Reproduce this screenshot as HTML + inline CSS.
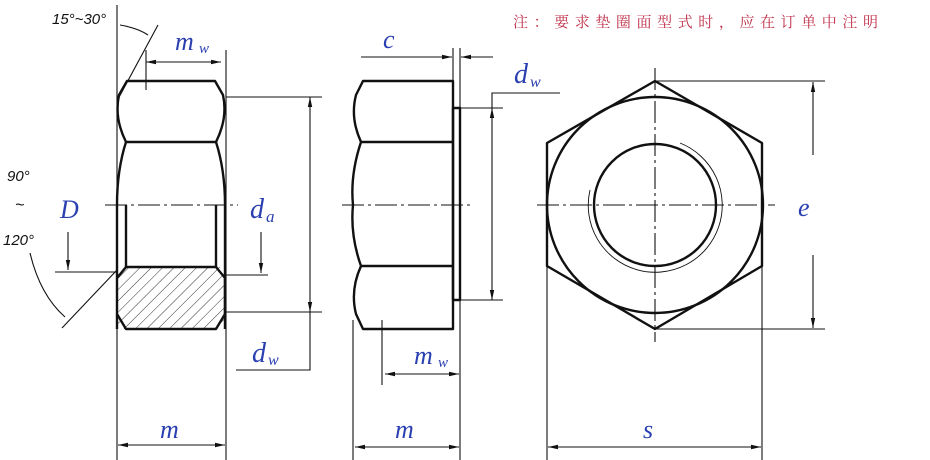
<!DOCTYPE html>
<html><head><meta charset="utf-8"><style>html,body{margin:0;padding:0;background:#fff}svg{display:block}</style></head>
<body>
<svg width="930" height="460" viewBox="0 0 930 460" xmlns="http://www.w3.org/2000/svg">
<defs>
<marker id="a" viewBox="0 0 10 6" refX="10" refY="3" markerWidth="10" markerHeight="6" orient="auto-start-reverse" markerUnits="userSpaceOnUse"><path d="M0,0.8 L10,3 L0,5.2 Z" fill="#111"/></marker>
<pattern id="h" width="8" height="8" patternUnits="userSpaceOnUse" patternTransform="rotate(45)"><line x1="0" y1="0" x2="0" y2="8" stroke="#333" stroke-width="1"/></pattern>
</defs>
<rect width="930" height="460" fill="#fff"/>
<text x="513" y="27" font-family="'Liberation Serif','Noto Serif CJK SC',serif" font-size="15" fill="#c0304a" textLength="365" lengthAdjust="spacing">注：要求垫圈面型式时，应在订单中注明</text>

<g fill="none" stroke="#111" stroke-width="1.1">
<!-- LEFT VIEW thin lines -->
<line x1="117" y1="5" x2="117" y2="460"/>
<line x1="226" y1="50" x2="226" y2="460"/>
<line x1="105" y1="205" x2="238" y2="205" stroke-dasharray="22,4,3,4"/>
<line x1="226" y1="97" x2="322" y2="97"/>
<line x1="226" y1="312" x2="322" y2="312"/>
<line x1="310" y1="97" x2="310" y2="312" marker-start="url(#a)" marker-end="url(#a)"/>
<polyline points="310,312 310,370 236,370"/>
<line x1="55" y1="272" x2="117" y2="272"/>
<line x1="68" y1="232" x2="68" y2="270" marker-end="url(#a)"/>
<line x1="224" y1="275" x2="268" y2="275"/>
<line x1="261" y1="232" x2="261" y2="273" marker-end="url(#a)"/>
<line x1="146" y1="50" x2="146" y2="90"/>
<line x1="146" y1="62" x2="221" y2="62" marker-start="url(#a)" marker-end="url(#a)"/>
<line x1="118" y1="445" x2="225" y2="445" marker-start="url(#a)" marker-end="url(#a)"/>
<line x1="158" y1="25" x2="117" y2="101"/>
<path d="M120,25 Q138,28 148,35"/>
<line x1="62" y1="328" x2="117" y2="270"/>
<path d="M30,253 Q40,295 65,317"/>
</g>
<!-- left nut outline -->
<rect x="117" y="267" width="108" height="62" fill="url(#h)" stroke="none"/>
<g fill="none" stroke="#111" stroke-width="2.4" stroke-linejoin="round">
<path d="M127,81 L215,81 L223,95 Q228,118 216,142 L126,142 Q114,118 119,95 Z"/>
<path d="M126,142 Q117,170 117,205 L117,329"/>
<path d="M216,142 Q225,170 225,205 L225,329"/>
<line x1="126" y1="205" x2="126" y2="267"/>
<line x1="216" y1="205" x2="216" y2="267"/>
<path d="M117,278 L126,267 L216,267 L225,278 L225,314 L216,329 L126,329 L117,314"/>
</g>
<rect x="118" y="268" width="106" height="60" fill="#fff" opacity="0"/>

<!-- MIDDLE VIEW -->
<g fill="none" stroke="#111" stroke-width="1.1">
<line x1="353" y1="320" x2="353" y2="460"/>
<line x1="460" y1="48" x2="460" y2="460"/>
<line x1="453" y1="48" x2="453" y2="80"/>
<line x1="342" y1="205" x2="472" y2="205" stroke-dasharray="22,4,3,4"/>
<line x1="361" y1="57" x2="452" y2="57" marker-end="url(#a)"/>
<line x1="493" y1="57" x2="461" y2="57" marker-end="url(#a)"/>
<line x1="460" y1="108" x2="503" y2="108"/>
<line x1="460" y1="300" x2="503" y2="300"/>
<line x1="492" y1="108" x2="492" y2="300" marker-start="url(#a)" marker-end="url(#a)"/>
<polyline points="492,108 492,93 560,93"/>
<line x1="382" y1="320" x2="382" y2="385"/>
<line x1="385" y1="374" x2="459" y2="374" marker-start="url(#a)" marker-end="url(#a)"/>
<line x1="355" y1="447" x2="459" y2="447" marker-start="url(#a)" marker-end="url(#a)"/>
</g>
<g fill="none" stroke="#111" stroke-width="2.4" stroke-linejoin="round">
<path d="M453,81 L363,81 L356,95 Q350,118 361,142 Q350,175 353,205 Q350,235 361,266 Q350,290 356,314 L363,329 L453,329 Z"/>
<line x1="361" y1="142" x2="453" y2="142"/>
<line x1="361" y1="266" x2="453" y2="266"/>
<rect x="453" y="108" width="7" height="192"/>
</g>

<!-- RIGHT VIEW -->
<g fill="none" stroke="#111" stroke-width="1.1">
<line x1="655" y1="68" x2="655" y2="342" stroke-dasharray="22,4,3,4"/>
<line x1="537" y1="205" x2="775" y2="205" stroke-dasharray="22,4,3,4"/>
<line x1="655" y1="81" x2="825" y2="81"/>
<line x1="655" y1="329" x2="825" y2="329"/>
<line x1="813" y1="155" x2="813" y2="82" marker-end="url(#a)"/>
<line x1="813" y1="255" x2="813" y2="328" marker-end="url(#a)"/>
<line x1="547" y1="266" x2="547" y2="460"/>
<line x1="762" y1="266" x2="762" y2="460"/>
<line x1="548" y1="447" x2="761" y2="447" marker-start="url(#a)" marker-end="url(#a)"/>
<path d="M680,143 A67,67 0 1 1 590,190" stroke-width="0.9"/>
</g>
<g fill="none" stroke="#111" stroke-width="2.4" stroke-linejoin="round">
<polygon points="655,81 762,143 762,266 655,329 547,266 547,143"/>
<circle cx="655" cy="205" r="108"/>
<circle cx="655" cy="205" r="61"/>
</g>

<!-- labels -->
<g font-family="'Liberation Serif',serif" font-style="italic" fill="#2a3fb0">
<text x="175" y="50" font-size="26">m</text><text x="199" y="53" font-size="15">w</text>
<text x="60" y="218" font-size="26">D</text>
<text x="250" y="218" font-size="28">d</text><text x="266" y="222" font-size="17">a</text>
<text x="252" y="362" font-size="28">d</text><text x="268" y="365" font-size="16">w</text>
<text x="160" y="438" font-size="26">m</text>
<text x="383" y="48" font-size="26">c</text>
<text x="514" y="83" font-size="28">d</text><text x="530" y="87" font-size="16">w</text>
<text x="414" y="364" font-size="26">m</text><text x="438" y="367" font-size="15">w</text>
<text x="395" y="438" font-size="26">m</text>
<text x="798" y="216" font-size="26">e</text>
<text x="643" y="438" font-size="26">s</text>
</g>
<g font-family="'Liberation Sans',sans-serif" font-style="italic" fill="#111">
<text x="52" y="24" font-size="15">15°~30°</text>
<text x="7" y="181" font-size="15">90°</text>
<text x="15" y="210" font-size="16">~</text>
<text x="3" y="245" font-size="15">120°</text>
</g>
</svg>
</body></html>
